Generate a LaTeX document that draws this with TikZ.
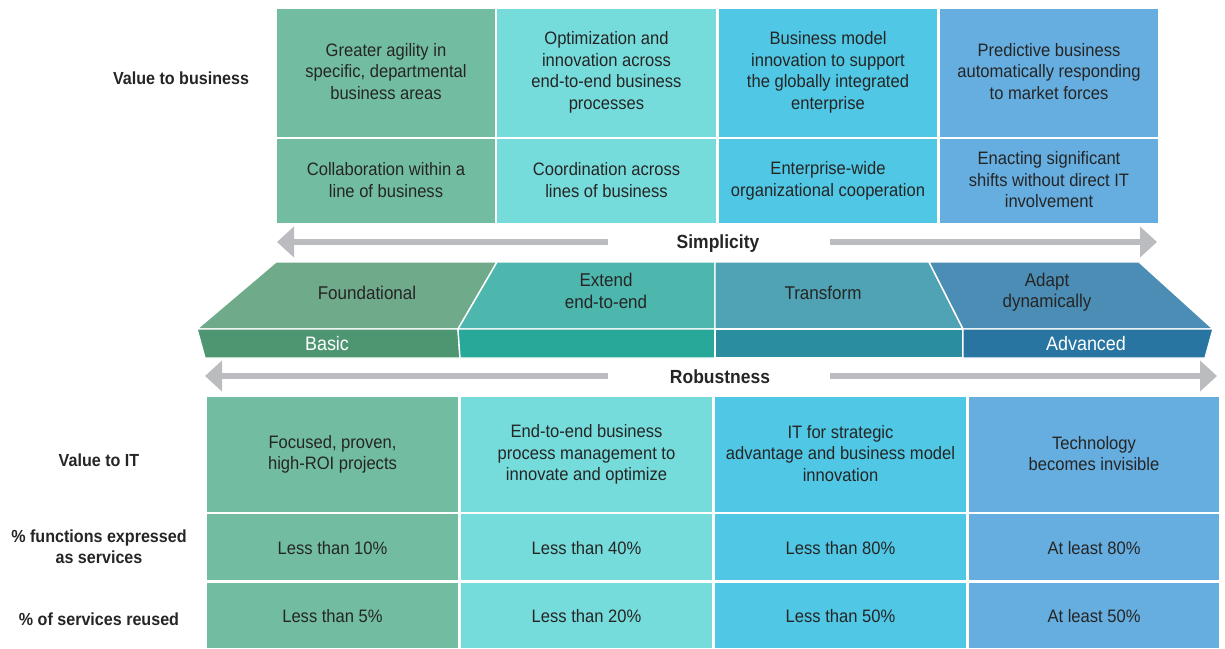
\documentclass[tikz,border=0pt]{standalone}
\usepackage{fontspec}
\setmainfont{Liberation Sans}[FakeStretch=0.92]
\usetikzlibrary{arrows.meta}
\definecolor{c1}{HTML}{72BDA1}
\definecolor{c2}{HTML}{76DCDB}
\definecolor{c3}{HTML}{50C8E5}
\definecolor{c4}{HTML}{66AEE0}
\definecolor{f1}{HTML}{6FAA8B}
\definecolor{f2}{HTML}{4EB7AD}
\definecolor{f3}{HTML}{50A2B5}
\definecolor{f4}{HTML}{4B8DB4}
\definecolor{l1}{HTML}{4E9672}
\definecolor{l2}{HTML}{27A899}
\definecolor{l3}{HTML}{2A8DA0}
\definecolor{l4}{HTML}{2775A0}
\definecolor{txt}{HTML}{252525}
\definecolor{arrowgray}{HTML}{BBBCBF}
\newcommand\cellfont{\fontsize{18}{21.5}\selectfont}
\newcommand\labfont{\bfseries\fontsize{17.5}{21.5}\selectfont}
\newcommand\axfont{\bfseries\fontsize{19}{22}\selectfont}
\newcommand\bandfont{\fontsize{18.5}{21.5}\selectfont}
\newcommand\lowfont{\fontsize{19.5}{22}\selectfont}
\newcommand\cstrut{\rule[-2.25pt]{0pt}{19.25pt}}
\tikzset{
  struts/.style={execute at begin node=\cstrut, execute at end node=\cstrut},
  cell/.style={fill=#1, inner sep=0pt, align=center, text=txt, font=\cellfont, struts},
  blabel/.style={inner sep=0pt, align=center, text=txt, font=\labfont, struts},
  axlabel/.style={inner sep=0pt, align=center, text=txt, font=\axfont, struts},
  bandtext/.style={inner sep=0pt, align=center, text=txt, font=\bandfont, struts},
  lowtext/.style={inner sep=0pt, align=center, text=white, font=\lowfont, struts},
  seg/.style={fill=#1, draw=white, line width=1.4pt, line join=miter},
  garrow/.style={draw=arrowgray, line width=6pt, -{Triangle[length=17pt,width=30pt]}},
}
\begin{document}
\begin{tikzpicture}[x=1pt,y=-1pt]
\useasboundingbox (0,0) rectangle (1225,648);
% ---- top grid
\node[cell=c1, minimum width=218pt, minimum height=128pt] (t11) at (386,72.5) {Greater agility in\\specific, departmental\\business areas};
\node[cell=c2, minimum width=219pt, minimum height=128pt] (t12) at (606.5,72.5) {Optimization and\\innovation across\\end-to-end business\\processes};
\node[cell=c3, minimum width=218pt, minimum height=128pt] (t13) at (828,72.5) {Business model\\innovation to support\\the globally integrated\\enterprise};
\node[cell=c4, minimum width=218pt, minimum height=128pt] (t14) at (1049,72.5) {Predictive business\\automatically responding\\to market forces};
\node[cell=c1, minimum width=218pt, minimum height=84pt] (t21) at (386,181) {Collaboration within a\\line of business};
\node[cell=c2, minimum width=219pt, minimum height=84pt] (t22) at (606.5,181) {Coordination across\\lines of business};
\node[cell=c3, minimum width=218pt, minimum height=84pt] (t23) at (828,181) {Enterprise-wide\\organizational cooperation};
\node[cell=c4, minimum width=218pt, minimum height=84pt] (t24) at (1049,181) {Enacting significant\\shifts without direct IT\\involvement};
\node[blabel] (vb) at (181,77) {Value to business};
% ---- simplicity arrows
\coordinate (sl0) at (608,242);
\coordinate (sl1) at (277,242);
\coordinate (sr0) at (830,242);
\coordinate (sr1) at (1157,242);
\draw[garrow] (sl0) -- (sl1);
\draw[garrow] (sr0) -- (sr1);
\node[axlabel] (simp) at (718,242) {Simplicity};
% ---- band
\path[seg=f1] (276,262) -- (497,262) -- (458,329) -- (197,329) -- cycle;
\path[seg=l1] (197,329) -- (458,329) -- (460,358) -- (205,358) -- cycle;
\path[seg=f2] (497,262) -- (715,262) -- (715,329) -- (458,329) -- cycle;
\path[seg=l2] (458,329) -- (715,329) -- (715,358) -- (460,358) -- cycle;
\path[seg=f3] (715,262) -- (929,262) -- (963,329) -- (715,329) -- cycle;
\path[seg=l3] (715,329) -- (963,329) -- (963,358) -- (715,358) -- cycle;
\path[seg=f4] (929,262) -- (1139,262) -- (1213,329) -- (963,329) -- cycle;
\path[seg=l4] (963,329) -- (1213,329) -- (1205,358) -- (963,358) -- cycle;
\node[bandtext] (found) at (367,292) {Foundational};
\node[bandtext] (ext) at (606,292) {Extend\\end-to-end};
\node[bandtext] (trans) at (823,292) {Transform};
\node[bandtext] (adapt) at (1047,292) {Adapt\\dynamically};
\node[lowtext] (basic) at (327,343) {Basic};
\node[lowtext] (adv) at (1086,343) {Advanced};
% ---- robustness arrows
\coordinate (rl0) at (608,376);
\coordinate (rl1) at (205,376);
\coordinate (rr0) at (830,376);
\coordinate (rr1) at (1217,376);
\draw[garrow] (rl0) -- (rl1);
\draw[garrow] (rr0) -- (rr1);
\node[axlabel] (rob) at (720,376) {Robustness};
% ---- bottom grid
\node[cell=c1, minimum width=251pt, minimum height=115pt] (b11) at (332.5,454.5) {Focused, proven,\\high-ROI projects};
\node[cell=c2, minimum width=251pt, minimum height=115pt] (b12) at (586.5,454.5) {End-to-end business\\process management to\\innovate and optimize};
\node[cell=c3, minimum width=251pt, minimum height=115pt] (b13) at (840.5,454.5) {IT for strategic\\advantage and business model\\innovation};
\node[cell=c4, minimum width=250pt, minimum height=115pt] (b14) at (1094,454.5) {Technology\\becomes invisible};
\node[cell=c1, minimum width=251pt, minimum height=66pt] (b21) at (332.5,547) {Less than 10\%};
\node[cell=c2, minimum width=251pt, minimum height=66pt] (b22) at (586.5,547) {Less than 40\%};
\node[cell=c3, minimum width=251pt, minimum height=66pt] (b23) at (840.5,547) {Less than 80\%};
\node[cell=c4, minimum width=250pt, minimum height=66pt] (b24) at (1094,547) {At least 80\%};
\node[cell=c1, minimum width=251pt, minimum height=65pt] (b31) at (332.5,615.5) {Less than 5\%};
\node[cell=c2, minimum width=251pt, minimum height=65pt] (b32) at (586.5,615.5) {Less than 20\%};
\node[cell=c3, minimum width=251pt, minimum height=65pt] (b33) at (840.5,615.5) {Less than 50\%};
\node[cell=c4, minimum width=250pt, minimum height=65pt] (b34) at (1094,615.5) {At least 50\%};
\node[blabel] (vit) at (99,459) {Value to IT};
\node[blabel] (pfun) at (99,548) {\% functions expressed\\as services};
\node[blabel] (preuse) at (99,618) {\% of services reused};
\end{tikzpicture}
\end{document}
